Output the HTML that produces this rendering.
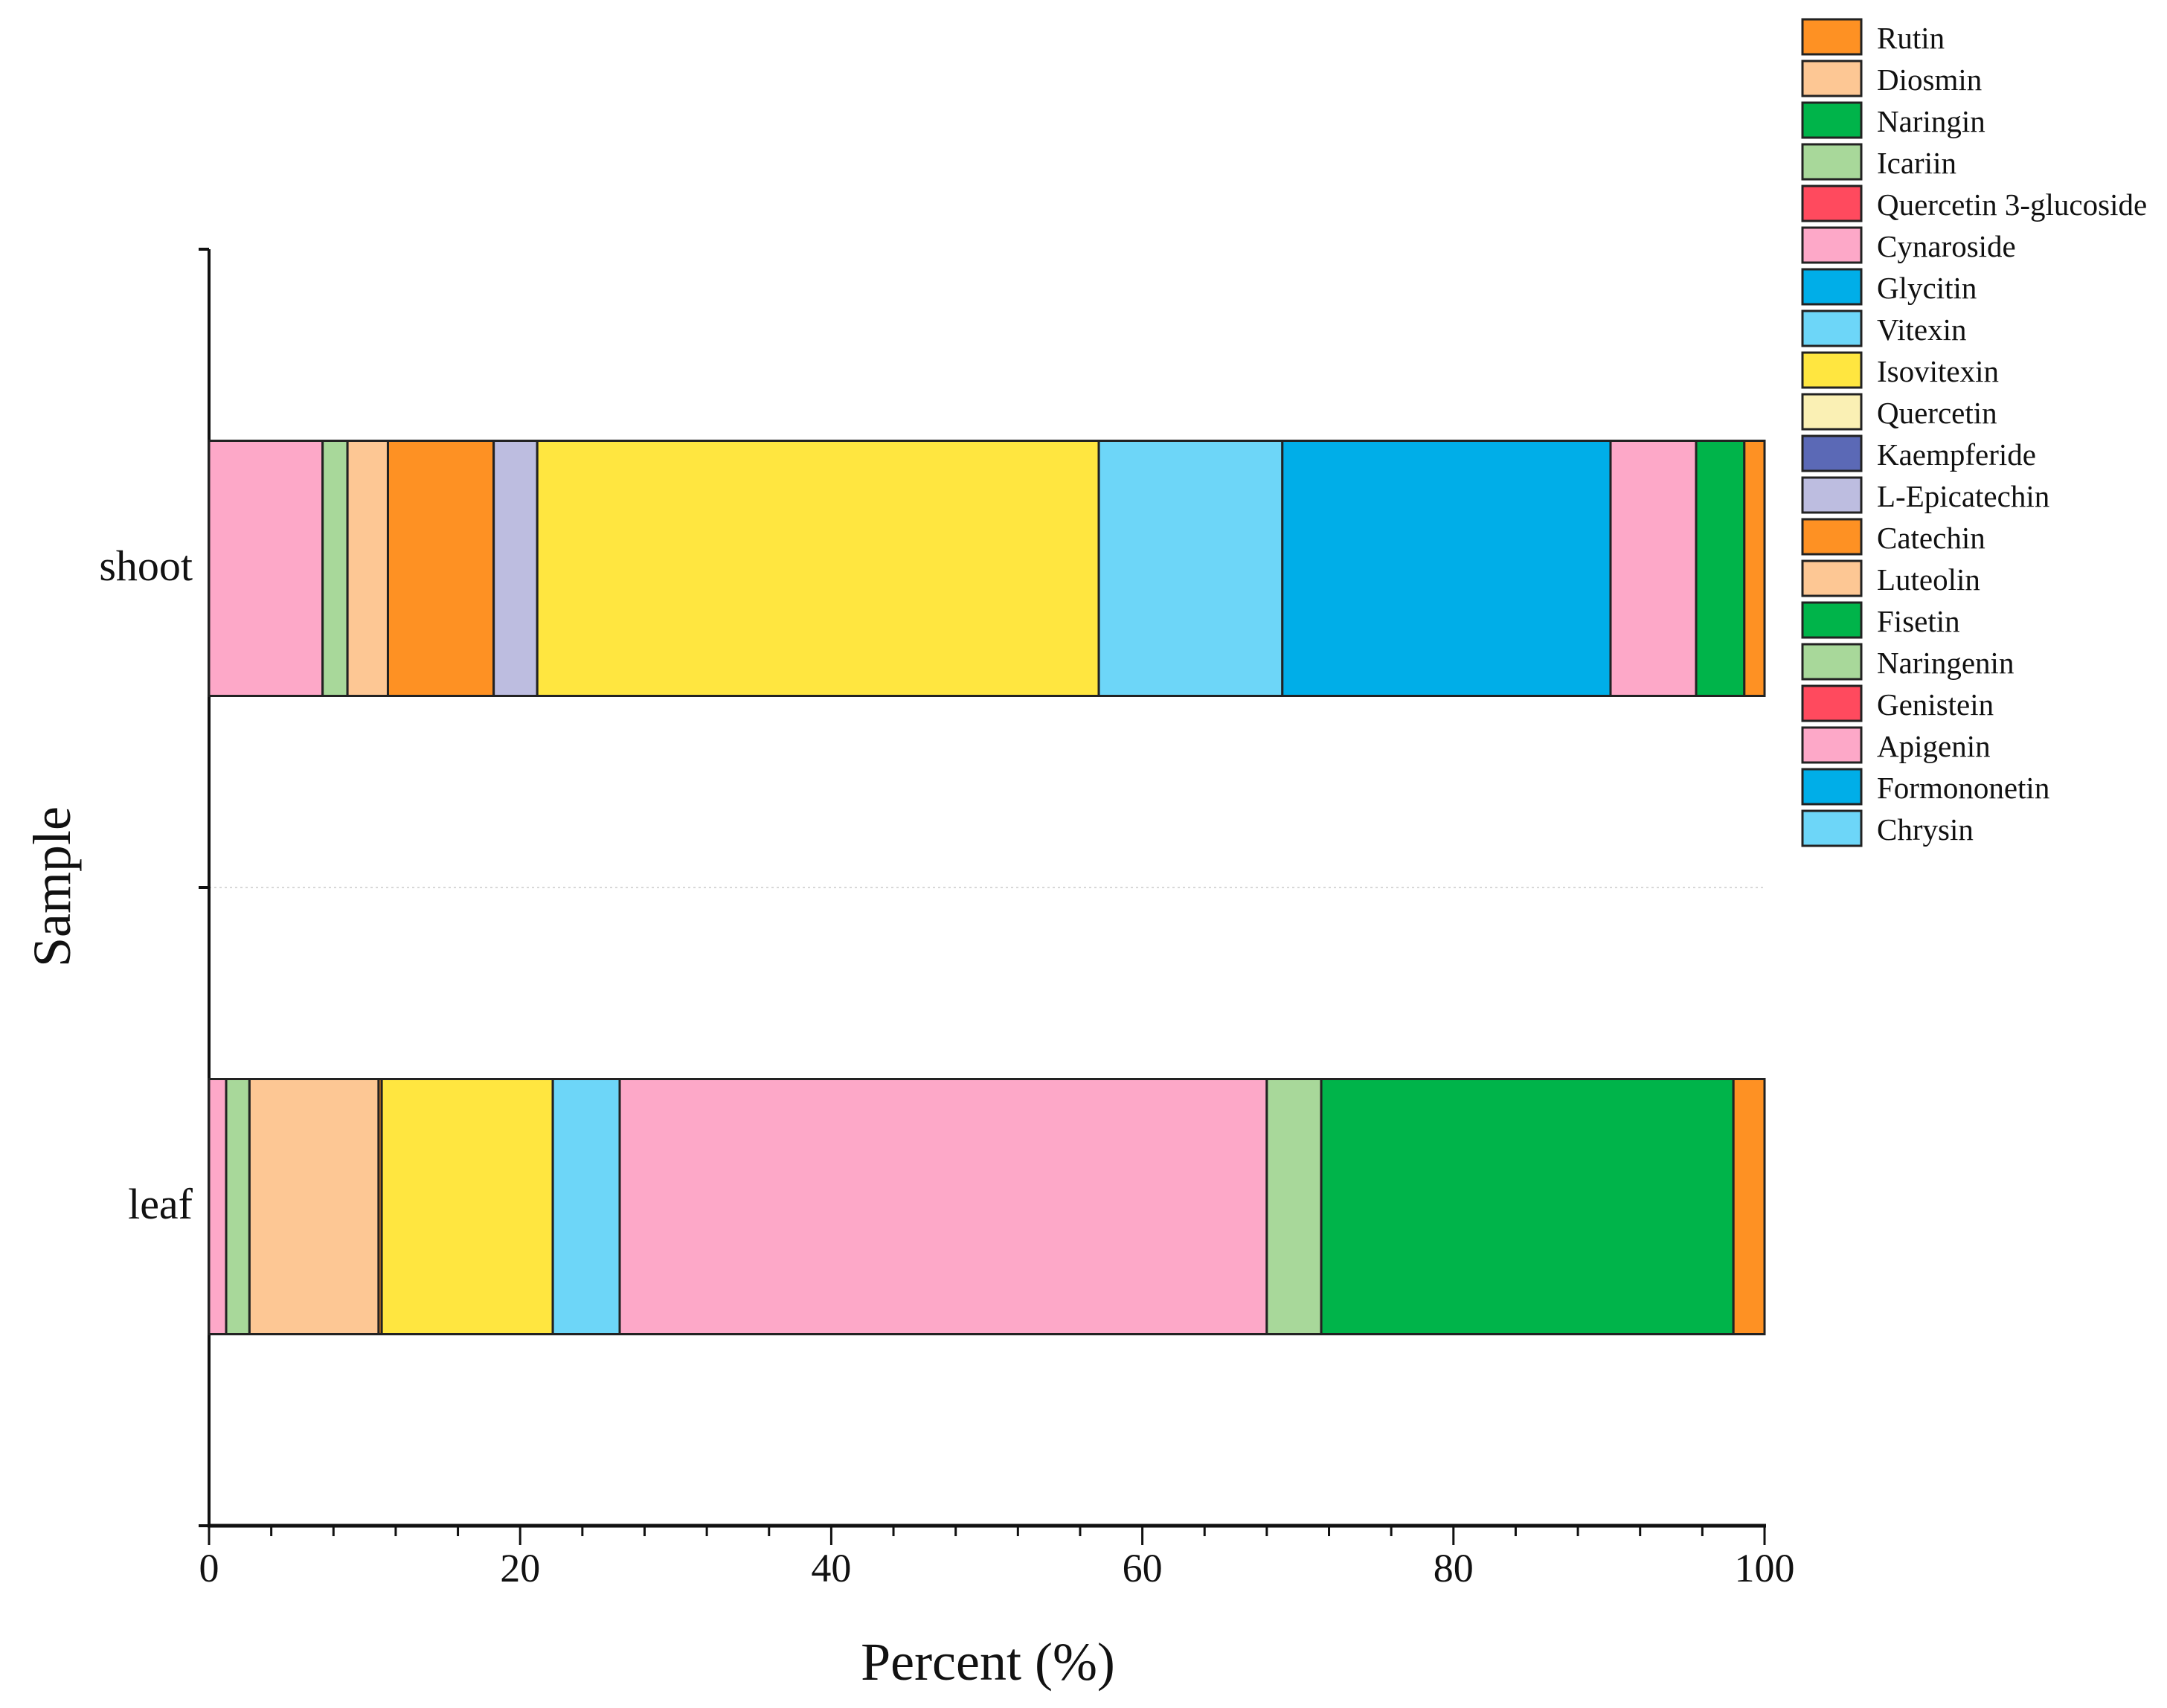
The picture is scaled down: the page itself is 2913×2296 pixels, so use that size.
<!DOCTYPE html>
<html><head><meta charset="utf-8">
<style>
html,body{margin:0;padding:0;background:#fff;}
svg{display:block;font-family:"Liberation Serif",serif;}
</style></head>
<body>
<svg id="chart" width="2913" height="2296" viewBox="0 0 2913 2296" xmlns="http://www.w3.org/2000/svg">
<g id="axes"></g>
<g id="bars"></g>
<g id="legend"></g>
<text x="1328" y="2258" font-size="72" text-anchor="middle" fill="#111">Percent (%)</text>
<text transform="translate(94,1192) rotate(-90)" font-size="72" text-anchor="middle" fill="#111">Sample</text>
</svg>
<script>
const compounds = ["Rutin","Diosmin","Naringin","Icariin","Quercetin 3-glucoside","Cynaroside","Glycitin","Vitexin","Isovitexin","Quercetin","Kaempferide","L-Epicatechin","Catechin","Luteolin","Fisetin","Naringenin","Genistein","Apigenin","Formononetin","Chrysin"];
const colors = ["#FE9123","#FDC794","#00B44A","#A8D89A","#FF4A5E","#FDA8C8","#00AEE8","#6DD6F8","#FFE640","#FAF0B4","#5B69B6","#BDBDE0","#FE9123","#FDC794","#00B44A","#A8D89A","#FF4A5E","#FDA8C8","#00AEE8","#6DD6F8"];
const samples = ["shoot","leaf"];
// values in legend order (Rutin ... Chrysin)
const shootValues = [1.3,0,3.1,0,0,5.5,21.1,11.8,36.1,0,0,2.8,6.8,2.6,0,1.6,0,7.3,0,0];
const leafValues  = [2.0,0,26.5,3.5,0,41.6,0,4.3,11.0,0,0,0,0.2,8.3,0,1.5,0,1.1,0,0];
const xTicks = [0,20,40,60,80,100];

const NS="http://www.w3.org/2000/svg";
const X0=281, X1=2372, YT=335, YB=2051;
const xs = v => X0 + (v/100)*(X1-X0);
const bandH = (YB-YT)/2;
const yCenter = i => YT + bandH*(i+0.5);
const barH = 343;
function mk(tag, attrs, parent){const e=document.createElementNS(NS,tag);for(const k in attrs)e.setAttribute(k,attrs[k]);parent.appendChild(e);return e;}

const axes=document.getElementById('axes');
const bars=document.getElementById('bars');
const legend=document.getElementById('legend');

let g=mk('line',{x1:X0,x2:X1,y1:YT+bandH,y2:YT+bandH,stroke:'#ccc','stroke-width':1.5,'stroke-dasharray':'3,4'},axes);



const seriesBySample=[shootValues,leafValues];
samples.forEach((s,si)=>{
  const vals=seriesBySample[si];
  let cum=0;
  const yc=yCenter(si);
  for(let k=compounds.length-1;k>=0;k--){
    const v=vals[k]; if(v<=0) continue;
    const r=mk('rect',{x:xs(cum),y:yc-barH/2,width:xs(cum+v)-xs(cum),height:barH,fill:colors[k],stroke:'#222','stroke-width':3},bars);
    
    
    cum+=v;
  }
  const t=mk('text',{x:259,y:yc+16,'font-size':58,'text-anchor':'end',fill:'#111'},axes);
  t.textContent=s;
  
  
});

let ya=mk('line',{x1:X0,x2:X0,y1:YT,y2:YB+2,stroke:'#111','stroke-width':4},axes);


[YT,YT+bandH,YB].forEach(y=>{
  const tk=mk('line',{x1:X0-14,x2:X0,y1:y,y2:y,stroke:'#111','stroke-width':4},axes);
  
  
});
let xa=mk('line',{x1:X0-2,x2:X1+2,y1:YB,y2:YB,stroke:'#111','stroke-width':5},axes);


for(let v=0;v<=100;v+=4){
  const major = v%20===0;
  const tk=mk('line',{x1:xs(v),x2:xs(v),y1:YB,y2:YB+(major?26:14),stroke:'#111','stroke-width':3},axes);
  
  
}
xTicks.forEach(v=>{
  const t=mk('text',{x:xs(v),y:2126,'font-size':54,'text-anchor':'middle',fill:'#111'},axes);
  t.textContent=v;
  
  
});

compounds.forEach((c,i)=>{
  const y=26+i*56;
  const r=mk('rect',{x:2423,y:y,width:79,height:47,fill:colors[i],stroke:'#222','stroke-width':3},legend);
  
  
  const t=mk('text',{x:2523,y:y+39,'font-size':41,fill:'#111'},legend);
  t.textContent=c;
  
  
});
</script>
</body></html>
